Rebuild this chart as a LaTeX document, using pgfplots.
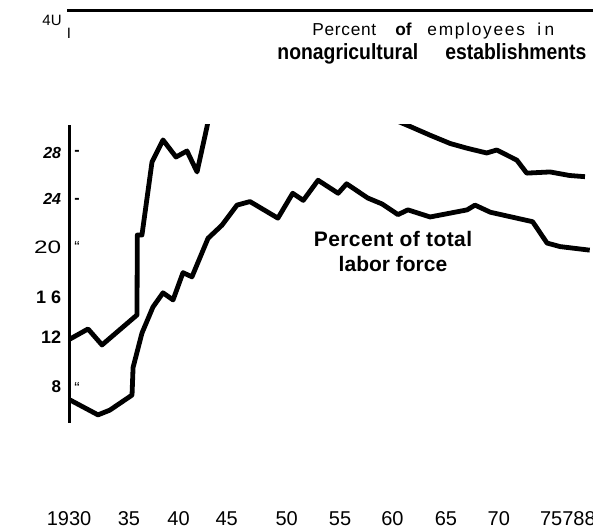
\documentclass[border=0pt]{standalone}
\usepackage{fontspec}
\setmainfont{Liberation Sans}
\newfontfamily\condfont[FakeStretch=0.88]{Liberation Sans}
\newfontfamily\widefont[FakeStretch=1.35]{Liberation Sans}
\usepackage{pgfplots}
\pgfplotsset{compat=1.18}
\begin{document}
\begin{tikzpicture}
\begin{axis}[
  scale only axis,
  width=261.5pt, height=149pt,
  xmin=1929.43, xmax=1978.91,
  ymin=5.215, ymax=30.363,
  clip mode=individual,
  axis lines=left,
  axis line style={-},
  x axis line style={draw=none},
  y axis line style={line width=1.5pt},
  tick style={draw=none},
  major tick length=0pt,
  xtick={1935.01,1939.70,1944.26,1949.93,1954.98,1959.94,1965.0,1970.0,1976.53},
  xticklabels={35,40,45,50,55,60,65,70,75788},
  xticklabel style={anchor=center, inner sep=0pt, yshift=-48pt, font=\fontsize{10pt}{12pt}\selectfont},
  ytick={8.28,12.45,15.85,20,24.1,28},
  yticklabels={{\fontsize{8.5pt}{10pt}\selectfont\bfseries 8},
               {\fontsize{9pt}{10pt}\selectfont\bfseries 12},
               {\fontsize{9pt}{10pt}\selectfont\bfseries 1 6},
               {\fontsize{9pt}{10pt}\selectfont\widefont 20},
               {\fontsize{8pt}{10pt}\selectfont\bfseries\itshape 24},
               {\fontsize{8pt}{10pt}\selectfont\bfseries\itshape 28}},
  yticklabel style={anchor=east, inner sep=0pt, xshift=-4.25pt},
]
% union membership, percent of employees in nonagricultural establishments
\addplot[black, line width=2.4pt, line join=round] coordinates {
(1929.43,12.3) (1931.14,13.15) (1932.46,11.8) (1935.77,14.33) (1935.8,21.08)
(1936.24,21.08) (1937.19,27.24) (1938.23,29.1) (1939.46,27.66) (1940.5,28.17)
(1941.45,26.4) (1942.39,30.2) (1943.2,34) (1945,36) (1950,35.5) (1955,34)
(1958,31.6) (1961.6,30.24) (1963.5,29.5) (1965.4,28.8) (1967.0,28.4)
(1968.85,28.0) (1969.8,28.25) (1971.7,27.4) (1972.64,26.3) (1974.85,26.4)
(1976.7,26.1) (1978.15,26.0)
};
% percent of total labor force
\addplot[black, line width=2.4pt, line join=round] coordinates {
(1929.43,7.16) (1932.08,5.9) (1933.2,6.3) (1935.3,7.57) (1935.4,9.9)
(1936.24,12.8) (1937.28,15.0) (1938.23,16.2) (1939.18,15.6) (1940.12,17.9)
(1940.97,17.55) (1942.49,20.8) (1943.8,21.9) (1945.23,23.6) (1946.46,23.9)
(1949.1,22.5) (1950.5,24.6) (1951.5,24.0) (1952.9,25.7) (1954.8,24.6)
(1955.6,25.4) (1957.6,24.2) (1958.95,23.7) (1960.46,22.8) (1961.4,23.2)
(1963.5,22.6) (1967.0,23.2) (1967.75,23.6) (1969.2,23.0) (1973.2,22.2)
(1974.56,20.4) (1975.8,20.1) (1978.6,19.8)
};
% first year label (lies just left of the plotted range)
\node[anchor=center, inner sep=0pt, font=\fontsize{10pt}{12pt}\selectfont] at (axis cs:1929.34,-2.886) {1930};
% inner tick marks
\node[font=\fontsize{8pt}{10pt}\selectfont\bfseries, inner sep=0pt] at (axis cs:1930.09,27.97) {-};
\node[font=\fontsize{8pt}{10pt}\selectfont\bfseries, inner sep=0pt] at (axis cs:1930.09,23.95) {-};
\node[font=\fontsize{8pt}{10pt}\selectfont, inner sep=0pt] at (axis cs:1930.09,20.1) {“};
\node[font=\fontsize{8pt}{10pt}\selectfont, inner sep=0pt] at (axis cs:1930.09,8.15) {“};
% top frame line and corner labels
\draw[line width=1.35pt] (axis cs:1929.15,40) -- (axis cs:1980,40);
\node[anchor=base east, inner sep=0pt, font=\fontsize{7.5pt}{9pt}\selectfont] at (axis cs:1928.68,38.8) {4U};
\node[anchor=base, inner sep=0pt, font=\fontsize{7.5pt}{9pt}\selectfont] at (axis cs:1929.34,37.62) {I};
% title
\node[anchor=base west, inner sep=0pt, font=\fontsize{8.65pt}{10pt}\selectfont\addfontfeature{LetterSpace=4}] at (axis cs:1952.33,37.9) {Percent};
\node[anchor=base west, inner sep=0pt, font=\fontsize{8.65pt}{10pt}\selectfont\bfseries] at (axis cs:1960.18,37.9) {of};
\node[anchor=base west, inner sep=0pt, font=\fontsize{8.65pt}{10pt}\selectfont\addfontfeature{LetterSpace=10}] at (axis cs:1963.21,37.9) {employees};
\node[anchor=base west, inner sep=0pt, font=\fontsize{8.65pt}{10pt}\selectfont\addfontfeature{LetterSpace=20}] at (axis cs:1973.61,37.9) {in};
\node[anchor=base west, inner sep=0pt, font=\fontsize{11pt}{13pt}\selectfont\condfont\bfseries] at (axis cs:1949.02,35.85) {nonagricultural};
\node[anchor=base west, inner sep=0pt, font=\fontsize{11pt}{13pt}\selectfont\condfont\bfseries] at (axis cs:1964.91,35.85) {establishments};
% series label
\node[anchor=base, inner sep=0pt, font=\fontsize{10.5pt}{12pt}\selectfont\bfseries\addfontfeature{LetterSpace=2}] at (axis cs:1959.99,20.13) {Percent of total};
\node[anchor=base, inner sep=0pt, font=\fontsize{10.5pt}{12pt}\selectfont\bfseries] at (axis cs:1959.99,17.98) {labor force};
% picture frame corners
\coordinate (bbsw) at (axis cs:1922.81,-3.561);
\coordinate (bbne) at (axis cs:1978.91,40.91);
\end{axis}
\pgfresetboundingbox
\useasboundingbox (bbsw) rectangle (bbne);
\end{tikzpicture}
\end{document}
